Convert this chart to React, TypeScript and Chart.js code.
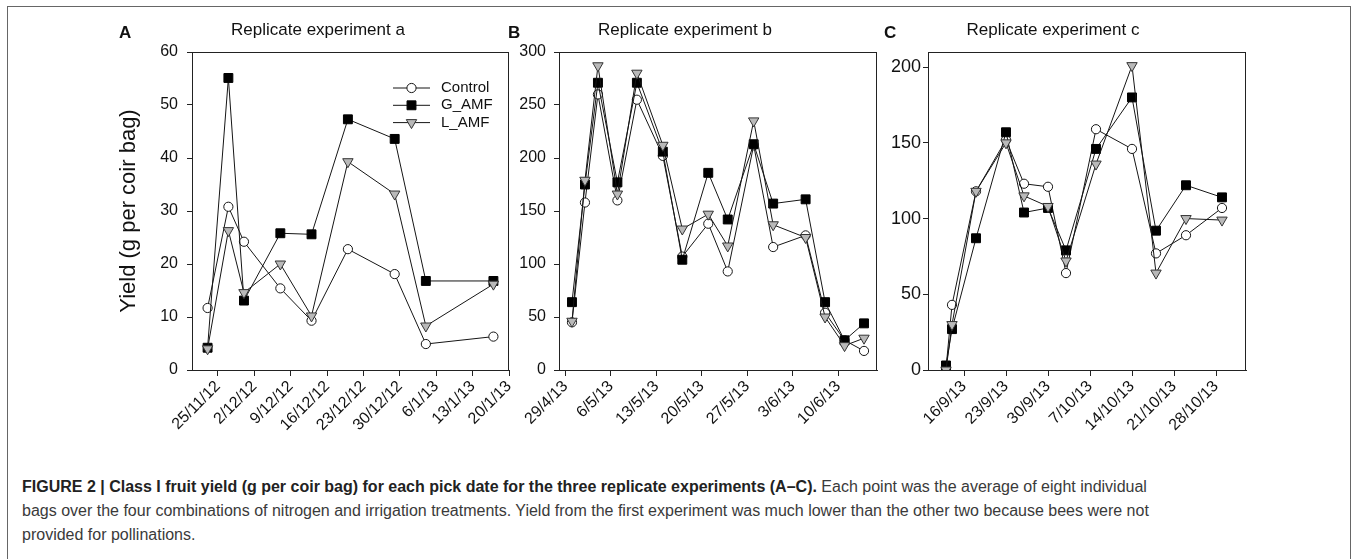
import React, { useEffect, useRef } from 'react';
import { Chart, registerables } from 'chart.js';
import { drawPoint } from 'chart.js/helpers';

Chart.register(...registerables);

const FONT = '"Liberation Sans", Arial, Helvetica, sans-serif';
const INK = '#151515';

// ---------- Panel A : Replicate experiment a ----------
const datesA = ['23/11/12', '27/11/12', '30/11/12', '7/12/12', '13/12/12', '20/12/12', '29/12/12', '4/1/13', '17/1/13'];
const controlA = [11.7, 30.8, 24.2, 15.4, 9.3, 22.8, 18.1, 4.9, 6.3];
const gAmfA = [4.2, 55.1, 13.1, 25.8, 25.6, 47.3, 43.6, 16.8, 16.8];
const lAmfA = [4.0, 26.3, 14.6, 20.0, 10.2, 39.3, 33.2, 8.3, 16.2];
const xTicksA = ['25/11/12', '2/12/12', '9/12/12', '16/12/12', '23/12/12', '30/12/12', '6/1/13', '13/1/13', '20/1/13'];
const xRangeA = ['20/11/12', '20/1/13'];
const yTicksA = [0, 10, 20, 30, 40, 50, 60];

// ---------- Panel B : Replicate experiment b ----------
const datesB = ['30/4/13', '2/5/13', '4/5/13', '7/5/13', '10/5/13', '14/5/13', '17/5/13', '21/5/13', '24/5/13', '28/5/13', '31/5/13', '5/6/13', '8/6/13', '11/6/13', '14/6/13'];
const controlB = [45, 158, 260, 160, 255, 202, 107, 138, 93, 212, 116, 127, 54, 28, 18];
const gAmfB = [64, 175, 271, 177, 271, 206, 104, 186, 142, 213, 157, 161, 64, 28, 44];
const lAmfB = [46, 179, 287, 166, 280, 212, 133, 147, 117, 235, 137, 125, 50, 23, 30];
const xTicksB = ['29/4/13', '6/5/13', '13/5/13', '20/5/13', '27/5/13', '3/6/13', '10/6/13'];
const xRangeB = ['28/4/13', '16/6/13'];
const yTicksB = [0, 50, 100, 150, 200, 250, 300];

// ---------- Panel C : Replicate experiment c ----------
const datesC = ['13/9/13', '14/9/13', '18/9/13', '23/9/13', '26/9/13', '30/9/13', '3/10/13', '8/10/13', '14/10/13', '18/10/13', '23/10/13', '29/10/13'];
const controlC = [1, 43, 118, 152, 123, 121, 64, 159, 146, 77, 89, 107];
const gAmfC = [3, 27, 87, 157, 104, 107, 79, 146, 180, 92, 122, 114];
const lAmfC = [0, 30, 118, 150, 115, 108, 72, 136, 201, 64, 100, 99];
const xTicksC = ['16/9/13', '23/9/13', '30/9/13', '7/10/13', '14/10/13', '21/10/13', '28/10/13'];
const xRangeC = ['10/9/13', '2/11/13'];
const yTicksC = [0, 50, 100, 150, 200];
const yMaxC = 210;

const seriesNames = ['Control', 'G_AMF', 'L_AMF'];

function dayOf(s: string): number {
  const [d, m, y] = s.split('/').map(Number);
  return Date.UTC(2000 + y, m - 1, d) / 86400000;
}

const decorPlugin = {
  id: 'decor',
  afterDraw(chart: any, _args: any, opts: any) {
    const { ctx, chartArea: a } = chart;
    ctx.save();
    // full box around plot
    ctx.strokeStyle = '#222';
    ctx.lineWidth = 1;
    ctx.strokeRect(Math.round(a.left) + 0.5, Math.round(a.top) + 0.5, Math.round(a.right - a.left) - 1, Math.round(a.bottom - a.top));
    // panel letter
    ctx.fillStyle = '#111';
    ctx.textBaseline = 'alphabetic';
    ctx.textAlign = 'left';
    ctx.font = `bold 17px ${FONT}`;
    ctx.fillText(opts.letter, a.left + opts.letterDx, 38);
    // title
    ctx.font = `17px ${FONT}`;
    ctx.textAlign = 'center';
    ctx.fillText(opts.title, a.left + opts.titleDx, 35);
    // legend
    if (opts.legend) {
      const ds = chart.data.datasets;
      ds.forEach((d: any, i: number) => {
        const y = a.top + 36 + i * 17.3;
        ctx.strokeStyle = d.borderColor;
        ctx.lineWidth = 1;
        ctx.beginPath();
        ctx.moveTo(a.right - 116, y);
        ctx.lineTo(a.right - 79, y);
        ctx.stroke();
        ctx.fillStyle = d.pointBackgroundColor;
        ctx.strokeStyle = d.pointBorderColor;
        ctx.lineWidth = d.pointBorderWidth;
        drawPoint(ctx, { pointStyle: d.pointStyle, rotation: d.pointRotation || 0, radius: d.pointRadius, borderWidth: d.pointBorderWidth } as any, a.right - 97.5, y);
        ctx.fillStyle = '#111';
        ctx.font = `15px ${FONT}`;
        ctx.textAlign = 'left';
        ctx.textBaseline = 'middle';
        ctx.fillText(d.label, a.right - 68, y);
      });
    }
    ctx.restore();
  },
};

function makeDatasets(dates: string[], c: number[], g: number[], l: number[]) {
  const xs = dates.map(dayOf);
  return [
    {
      label: seriesNames[0],
      data: xs.map((x, i) => ({ x, y: c[i] })),
      order: 3,
      borderColor: INK,
      borderWidth: 1,
      pointStyle: 'circle',
      pointRadius: 4.6,
      pointBackgroundColor: '#ffffff',
      pointBorderColor: INK,
      pointBorderWidth: 1,
    },
    {
      label: seriesNames[1],
      data: xs.map((x, i) => ({ x, y: g[i] })),
      order: 2,
      borderColor: INK,
      borderWidth: 1,
      pointStyle: 'rect',
      pointRadius: 6.3,
      pointBackgroundColor: '#000000',
      pointBorderColor: '#000000',
      pointBorderWidth: 1,
    },
    {
      label: seriesNames[2],
      data: xs.map((x, i) => ({ x, y: l[i] })),
      order: 1,
      borderColor: INK,
      borderWidth: 1,
      pointStyle: 'triangle',
      pointRotation: 180,
      pointRadius: 6,
      pointBackgroundColor: '#b9b9b9',
      pointBorderColor: '#333333',
      pointBorderWidth: 1,
    },
  ];
}

type Spec = {
  left: number;
  width: number;
  yAxisWidth: number;
  rightPad: number;
  dates: string[];
  c: number[];
  g: number[];
  l: number[];
  xTicks: string[];
  xRange: string[];
  yTicks: number[];
  yMax: number;
  letter: string;
  title: string;
  letterDx: number;
  titleDx: number;
  legend: boolean;
  yTitle?: string;
  yPad: number;
  yFont: number;
};

const CANVAS_H = 460;
const TOP = 52;
const BOTTOM = 370;
const X_AXIS_H = 80;

function Panel({ spec }: { spec: Spec }) {
  const ref = useRef<HTMLCanvasElement | null>(null);
  useEffect(() => {
    if (!ref.current) return;
    const tickVals = spec.xTicks.map(dayOf);
    const chart = new Chart(ref.current, {
      type: 'line',
      data: { datasets: makeDatasets(spec.dates, spec.c, spec.g, spec.l) as any },
      plugins: [decorPlugin],
      options: {
        responsive: false,
        animation: false,
        events: [],
        layout: { padding: { left: 0, top: TOP, right: spec.rightPad, bottom: CANVAS_H - BOTTOM - X_AXIS_H } },
        elements: { line: { tension: 0 } },
        plugins: {
          legend: { display: false },
          tooltip: { enabled: false },
          decor: {
            letter: spec.letter,
            title: spec.title,
            letterDx: spec.letterDx,
            titleDx: spec.titleDx,
            legend: spec.legend,
          },
        } as any,
        scales: {
          x: {
            type: 'linear',
            min: dayOf(spec.xRange[0]),
            max: dayOf(spec.xRange[1]),
            afterBuildTicks: (s: any) => {
              s.ticks = tickVals.map((v) => ({ value: v }));
            },
            afterFit: (s: any) => {
              s.height = X_AXIS_H;
            },
            ticks: {
              autoSkip: false,
              minRotation: 45,
              maxRotation: 45,
              padding: 1,
              color: '#111',
              font: { family: FONT, size: 16 },
              callback: (_v: any, i: number) => spec.xTicks[i],
            },
            grid: { display: true, drawOnChartArea: false, drawTicks: true, tickLength: 6, color: '#222' },
            border: { display: true, color: '#222', width: 1 },
          },
          y: {
            type: 'linear',
            min: 0,
            max: spec.yMax,
            afterBuildTicks: (s: any) => {
              s.ticks = spec.yTicks.map((v) => ({ value: v }));
            },
            afterFit: (s: any) => {
              s.width = spec.yAxisWidth;
            },
            ticks: {
              padding: spec.yPad,
              color: '#111',
              font: { family: FONT, size: spec.yFont },
              callback: (v: any) => String(v),
            },
            grid: { display: true, drawOnChartArea: false, drawTicks: true, tickLength: 5, color: '#222' },
            border: { display: true, color: '#222', width: 1 },
            title: spec.yTitle
              ? {
                  display: true,
                  text: spec.yTitle,
                  color: '#111',
                  font: { family: FONT, size: 22 },
                  padding: { top: 129 - 13.2, bottom: 0 },
                }
              : { display: false },
          },
        },
      } as any,
    });
    return () => chart.destroy();
  }, [spec]);
  return (
    <canvas
      ref={ref}
      width={spec.width}
      height={CANVAS_H}
      style={{ position: 'absolute', left: spec.left, top: 0, width: spec.width, height: CANVAS_H }}
    />
  );
}

const specA: Spec = {
  left: 0, width: 540, yAxisWidth: 192, rightPad: 540 - 509,
  dates: datesA, c: controlA, g: gAmfA, l: lAmfA,
  xTicks: xTicksA, xRange: xRangeA, yTicks: yTicksA, yMax: 60,
  letter: 'A', title: 'Replicate experiment a', letterDx: -73, titleDx: 126, legend: true,
  yTitle: 'Yield (g per coir bag)', yPad: 9, yFont: 16,
};
const specB: Spec = {
  left: 460, width: 440, yAxisWidth: 99, rightPad: 900 - 877,
  dates: datesB, c: controlB, g: gAmfB, l: lAmfB,
  xTicks: xTicksB, xRange: xRangeB, yTicks: yTicksB, yMax: 300,
  letter: 'B', title: 'Replicate experiment b', letterDx: -51, titleDx: 126, legend: false,
  yPad: 8, yFont: 16,
};
const specC: Spec = {
  left: 840, width: 440, yAxisWidth: 88, rightPad: 1280 - 1246,
  dates: datesC, c: controlC, g: gAmfC, l: lAmfC,
  xTicks: xTicksC, xRange: xRangeC, yTicks: yTicksC, yMax: yMaxC,
  letter: 'C', title: 'Replicate experiment c', letterDx: -44, titleDx: 125, legend: false,
  yPad: 2, yFont: 18,
};

export default function App() {
  return (
    <div style={{ position: 'fixed', left: 0, top: 0, width: 1357, height: 559, background: '#fff', overflow: 'hidden' }}>
      <div
        style={{
          position: 'absolute', left: 7, top: 6, width: 1342, height: 600,
          borderLeft: '1.5px solid #666', borderTop: '1.5px solid #666', borderRight: '1.5px solid #666',
        }}
      />
      <Panel spec={specA} />
      <Panel spec={specB} />
      <Panel spec={specC} />
      <div
        style={{
          position: 'absolute', left: 22, top: 475, fontFamily: FONT, fontSize: 16, lineHeight: '24px',
          color: '#3a3a3a', whiteSpace: 'nowrap',
        }}
      >
        <div>
          <b style={{ color: '#222' }}>
            FIGURE 2 | Class I fruit yield (g per coir bag) for each pick date for the three replicate experiments (A–C).
          </b>{' '}
          Each point was the average of eight individual
        </div>
        <div>
          bags over the four combinations of nitrogen and irrigation treatments. Yield from the first experiment was much lower than the other two because bees were not
        </div>
        <div>provided for pollinations.</div>
      </div>
    </div>
  );
}
